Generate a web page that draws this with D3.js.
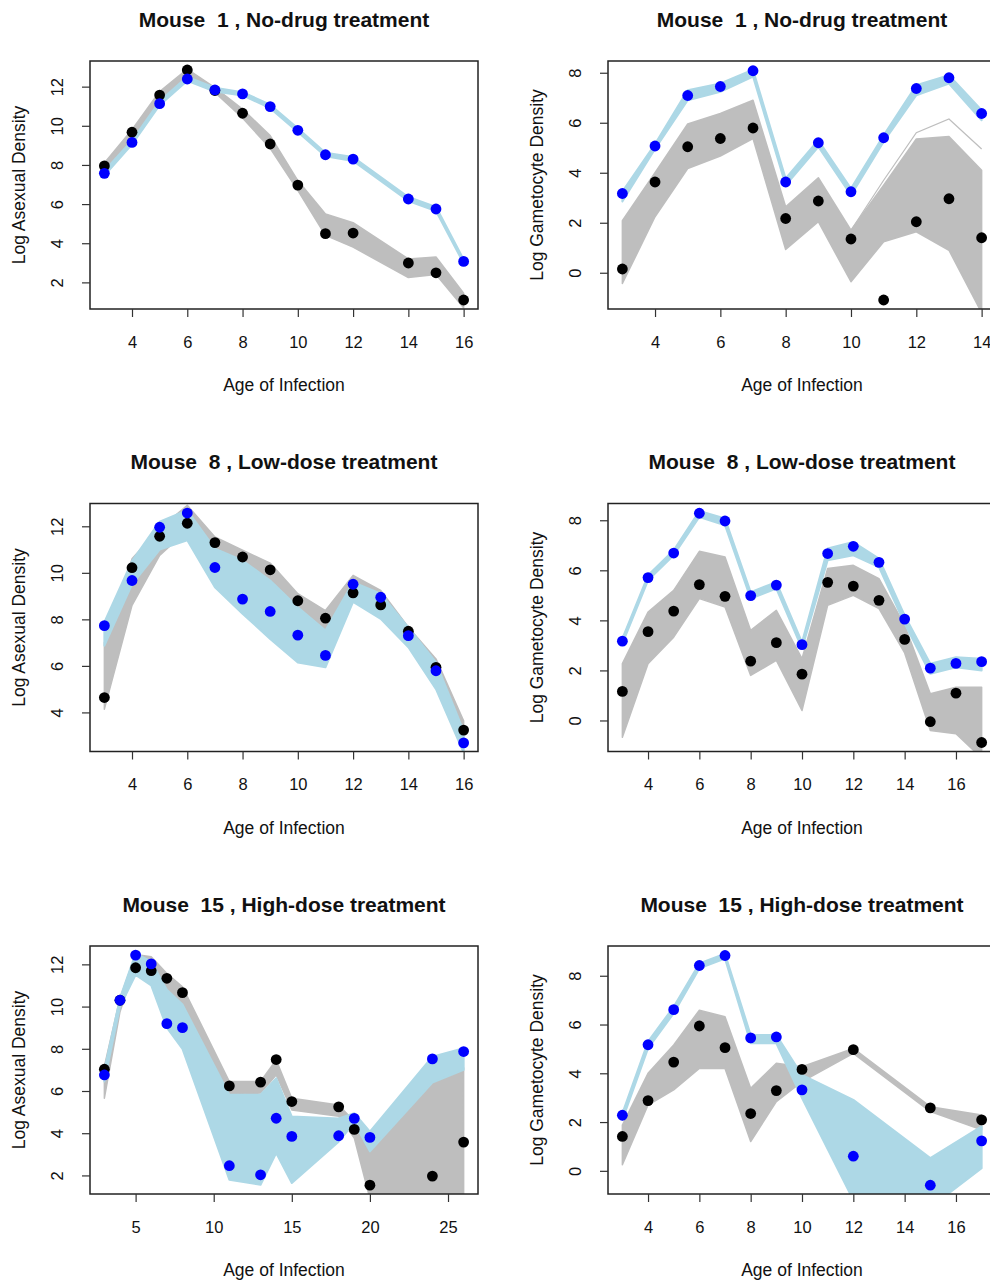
<!DOCTYPE html>
<html lang="en">
<head>
  <meta charset="UTF-8">
  <title>Mouse infection fits</title>
  <script src="https://d3js.org/d3.v7.min.js"></script>
  <style>
    body { margin: 0; background: #fff; }
    svg { display: block; font-family: "Liberation Sans", Arial, sans-serif; }
    .title { white-space: pre; }
  </style>
</head>
<body>
  <svg id="chart"></svg>
  <script>
    // ---- data ----
    // Mouse 1, asexual
    const days1 = [3, 4, 5, 6, 7, 8, 9, 10, 11, 12, 14, 15, 16];
    const asex1Obs = [7.95, 9.67, 11.57, 12.85, 11.8, 10.64, 9.07, 6.97, 4.49, 4.52, 2.99, 2.49, 1.1];
    const asex1Fit = [7.57, 9.15, 11.13, 12.39, 11.83, 11.63, 10.98, 9.77, 8.52, 8.3, 6.26, 5.75, 3.07];
    const asex1GreyHi = [8.1, 9.8, 11.75, 12.9, 11.95, 10.85, 9.5, 7.2, 5.5, 5.05, 3.2, 3.3, 1.45];
    const asex1GreyLo = [7.7, 9.3, 11.2, 12.5, 11.7, 10.4, 8.85, 6.7, 4.4, 3.8, 2.25, 2.4, 0.7];
    const asex1BlueHi = [7.7, 9.25, 11.25, 12.5, 11.95, 11.72, 11.08, 9.87, 8.62, 8.4, 6.36, 5.86, 3.17];
    const asex1BlueLo = [7.45, 9.05, 11.05, 12.3, 11.75, 11.55, 10.9, 9.68, 8.44, 8.2, 6.16, 5.65, 2.97];

    // Mouse 1, gametocyte
    const days2 = [3, 4, 5, 6, 7, 8, 9, 10, 11, 12, 13, 14];
    const gam1Obs = [0.15, 3.63, 5.04, 5.37, 5.79, 2.17, 2.87, 1.35, -1.09, 2.04, 2.96, 1.4];
    const gam1Fit = [3.17, 5.07, 7.09, 7.45, 8.08, 3.63, 5.2, 3.24, 5.4, 7.37, 7.8, 6.37];
    const gam1GreyHi = [2.08, 4.0, 5.95, 6.37, 6.9, 2.64, 3.8, 1.7, 3.5, 5.35, 5.45, 4.1];
    const gam1GreyLo = [-0.43, 2.24, 4.17, 4.67, 5.37, 0.93, 2.04, -0.36, 1.24, 1.64, 0.9, -1.6];
    const gam1BlueHi = [3.25, 5.15, 7.3, 7.57, 8.12, 3.77, 5.3, 3.37, 5.5, 7.5, 7.9, 6.5];
    const gam1BlueLo = [2.85, 4.95, 6.9, 7.24, 7.85, 3.5, 5.04, 3.1, 5.24, 7.1, 7.57, 6.1];
    const gam1StrayDays = [10, 11, 12, 13, 14];
    const gam1Stray = [1.7, 3.7, 5.6, 6.15, 4.95];

    // Mouse 8, asexual
    const days3 = [3, 4, 5, 6, 7, 8, 9, 10, 11, 12, 13, 14, 15, 16];
    const asex8Obs = [4.64, 10.22, 11.57, 12.13, 11.3, 10.68, 10.13, 8.8, 8.05, 9.14, 8.62, 7.49, 5.94, 3.24];
    const asex8Fit = [7.73, 9.67, 11.96, 12.57, 10.23, 8.87, 8.34, 7.32, 6.45, 9.51, 8.95, 7.3, 5.79, 2.69];
    const asex8GreyHi = [7.0, 10.6, 11.9, 12.9, 11.54, 10.97, 10.42, 9.1, 8.38, 9.89, 9.24, 7.66, 6.3, 3.64];
    const asex8GreyLo = [4.14, 8.6, 10.75, 11.83, 10.97, 10.36, 9.67, 8.45, 7.52, 9.24, 8.3, 6.94, 5.5, 2.63];
    const asex8BlueHi = [7.88, 10.5, 12.2, 12.69, 11.04, 10.53, 9.67, 8.52, 7.52, 9.6, 9.1, 7.66, 6.15, 3.2];
    const asex8BlueLo = [6.87, 9.5, 11.0, 11.4, 9.38, 8.24, 7.16, 6.15, 5.94, 8.75, 8.02, 6.8, 5.0, 2.27];

    // Mouse 8, gametocyte
    const days4 = [3, 4, 5, 6, 7, 8, 9, 10, 11, 12, 13, 14, 15, 16, 17];
    const gam8Obs = [1.16, 3.55, 4.37, 5.43, 4.96, 2.37, 3.11, 1.85, 5.52, 5.37, 4.8, 3.24, -0.05, 1.09, -0.88];
    const gam8Fit = [3.17, 5.71, 6.69, 8.28, 7.97, 4.99, 5.41, 3.03, 6.67, 6.96, 6.32, 4.05, 2.09, 2.28, 2.35];
    const gam8GreyHi = [2.27, 4.33, 5.2, 6.76, 6.53, 3.6, 4.4, 2.47, 6.07, 6.2, 5.67, 3.8, 1.07, 1.33, 1.33];
    const gam8GreyLo = [-0.67, 2.27, 3.33, 4.87, 4.53, 1.8, 2.4, 0.4, 4.6, 5.0, 4.47, 2.7, -0.4, -0.53, -1.5];
    const gam8BlueHi = [3.27, 5.8, 6.8, 8.37, 8.07, 5.13, 5.53, 3.13, 6.87, 7.13, 6.47, 4.2, 2.27, 2.53, 2.47];
    const gam8BlueLo = [3.07, 5.6, 6.6, 8.13, 7.8, 4.87, 5.27, 2.87, 6.4, 6.6, 6.13, 3.87, 1.87, 2.13, 2.0];

    // Mouse 15, asexual
    const days5 = [3, 4, 5, 6, 7, 8, 11, 13, 14, 15, 18, 19, 20, 24, 26];
    const asex15Obs = [7.03, 10.3, 11.84, 11.7, 11.34, 10.66, 6.24, 6.42, 7.49, 5.5, 5.25, 4.18, 1.54, 1.97, 3.58];
    const asex15Fit = [6.76, 10.3, 12.44, 12.02, 9.19, 9.0, 2.46, 2.03, 4.71, 3.85, 3.88, 4.7, 3.8, 7.52, 7.87];
    const asex15GreyHi = [7.16, 10.4, 12.47, 12.36, 11.57, 10.94, 6.45, 6.45, 7.47, 5.66, 5.34, 4.56, 3.3, 6.5, 7.1];
    const asex15GreyLo = [5.66, 9.76, 11.94, 11.5, 10.63, 10.0, 5.82, 5.9, 6.76, 5.1, 4.8, 3.77, 0.9, 0.9, 0.9];
    const asex15BlueHi = [7.0, 10.4, 12.52, 12.13, 10.8, 10.1, 5.82, 5.82, 6.6, 4.79, 4.7, 4.95, 4.08, 7.63, 8.03];
    const asex15BlueLo = [6.45, 10.0, 11.5, 11.0, 9.0, 8.0, 1.8, 1.56, 3.06, 1.64, 3.6, 4.5, 3.14, 6.4, 7.0];

    // Mouse 15, gametocyte
    const days6 = [3, 4, 5, 6, 7, 8, 9, 10, 12, 15, 17];
    const gam15Obs = [1.41, 2.88, 4.46, 5.94, 5.05, 2.35, 3.29, 4.16, 4.97, 2.58, 2.09];
    const gam15Fit = [2.28, 5.17, 6.61, 8.42, 8.83, 5.45, 5.49, 3.32, 0.6, -0.59, 1.23];
    const gam15GreyHi = [1.88, 4.0, 5.16, 6.59, 6.32, 3.39, 4.41, 4.27, 5.02, 2.63, 2.29];
    const gam15GreyLo = [0.25, 2.7, 3.32, 4.2, 4.2, 1.2, 2.84, 3.66, 4.82, 2.43, 1.68];
    const gam15BlueHi = [2.36, 5.3, 6.73, 8.5, 8.9, 5.57, 5.57, 3.93, 2.91, 0.52, 1.82];
    const gam15BlueLo = [2.09, 5.02, 6.46, 8.3, 8.7, 5.23, 5.23, 2.98, -1.2, -1.5, 0.11];

    // axis ranges and ticks
    const xDom1 = [2.48, 16.52], yDom1 = [0.64, 13.31];
    const xDom2 = [2.56, 14.44], yDom2 = [-1.45, 8.47];
    const xDom3 = [2.48, 16.52], yDom3 = [2.32, 12.98];
    const xDom4 = [2.44, 17.56], yDom4 = [-1.24, 8.67];
    const xDom5 = [2.08, 26.92], yDom5 = [1.12, 12.87];
    const xDom6 = [2.44, 17.56], yDom6 = [-0.95, 9.22];
    const xTicksEven = [4, 6, 8, 10, 12, 14, 16];
    const xTicksTo14 = [4, 6, 8, 10, 12, 14];
    const xTicksFive = [5, 10, 15, 20, 25];
    const yTicksAsex = [2, 4, 6, 8, 10, 12];
    const yTicksAsex8 = [4, 6, 8, 10, 12];
    const yTicksGam = [0, 2, 4, 6, 8];

    const asexLab = "Log Asexual Density", gamLab = "Log Gametocyte Density";

    const panels = [
      {col: 0, row: 0, title: "Mouse  1 , No-drug treatment", ylab: asexLab, days: days1, obs: asex1Obs, fit: asex1Fit,
       gh: asex1GreyHi, gl: asex1GreyLo, bh: asex1BlueHi, bl: asex1BlueLo, xDom: xDom1, yDom: yDom1, xt: xTicksEven, yt: yTicksAsex},
      {col: 1, row: 0, title: "Mouse  1 , No-drug treatment", ylab: gamLab, days: days2, obs: gam1Obs, fit: gam1Fit,
       gh: gam1GreyHi, gl: gam1GreyLo, bh: gam1BlueHi, bl: gam1BlueLo, xDom: xDom2, yDom: yDom2, xt: xTicksTo14, yt: yTicksGam,
       strayDays: gam1StrayDays, stray: gam1Stray},
      {col: 0, row: 1, title: "Mouse  8 , Low-dose treatment", ylab: asexLab, days: days3, obs: asex8Obs, fit: asex8Fit,
       gh: asex8GreyHi, gl: asex8GreyLo, bh: asex8BlueHi, bl: asex8BlueLo, xDom: xDom3, yDom: yDom3, xt: xTicksEven, yt: yTicksAsex8},
      {col: 1, row: 1, title: "Mouse  8 , Low-dose treatment", ylab: gamLab, days: days4, obs: gam8Obs, fit: gam8Fit,
       gh: gam8GreyHi, gl: gam8GreyLo, bh: gam8BlueHi, bl: gam8BlueLo, xDom: xDom4, yDom: yDom4, xt: xTicksEven, yt: yTicksGam},
      {col: 0, row: 2, title: "Mouse  15 , High-dose treatment", ylab: asexLab, days: days5, obs: asex15Obs, fit: asex15Fit,
       gh: asex15GreyHi, gl: asex15GreyLo, bh: asex15BlueHi, bl: asex15BlueLo, xDom: xDom5, yDom: yDom5, xt: xTicksFive, yt: yTicksAsex},
      {col: 1, row: 2, title: "Mouse  15 , High-dose treatment", ylab: gamLab, days: days6, obs: gam15Obs, fit: gam15Fit,
       gh: gam15GreyHi, gl: gam15GreyLo, bh: gam15BlueHi, bl: gam15BlueLo, xDom: xDom6, yDom: yDom6, xt: xTicksEven, yt: yTicksGam}
    ];

    // ---- layout ----
    const W = 990, H = 1281;
    const colW = 518, rowH = 442.5;
    const box = {left: 90, top: 61, w: 388, h: 248};
    const grey = "#bebebe", lightblue = "#add8e6";

    const svg = d3.select("#chart").attr("width", W).attr("height", H);
    svg.append("rect").attr("width", W).attr("height", H).attr("fill", "#fff");

    panels.forEach((p, i) => {
      const g = svg.append("g").attr("transform", `translate(${p.col * colW}, ${p.row * rowH})`);
      draw(g, p, i);
    });

    function draw(panel, p, i) {
      const x = d3.scaleLinear().domain(p.xDom).range([0, box.w]);
      const y = d3.scaleLinear().domain(p.yDom).range([box.h, 0]);

      const g = panel.append("g").attr("transform", `translate(${box.left}, ${box.top})`);
      g.append("clipPath").attr("id", "clip" + i)
        .append("rect").attr("width", box.w).attr("height", box.h);
      const plot = g.append("g").attr("clip-path", `url(#clip${i})`);

      const rows = p.days.map((d, k) => ({d, gh: p.gh[k], gl: p.gl[k], bh: p.bh[k], bl: p.bl[k], o: p.obs[k], f: p.fit[k]}));
      const band = (hi, lo) => d3.area().x(r => x(r.d)).y0(r => y(r[lo])).y1(r => y(r[hi]));

      plot.append("path").attr("d", band("gh", "gl")(rows))
        .attr("fill", grey).attr("stroke", grey).attr("stroke-width", 1.5).attr("stroke-linejoin", "round");

      if (p.stray) {
        const line = d3.line().x(d => x(d[0])).y(d => y(d[1]));
        plot.append("path").attr("d", line(d3.zip(p.strayDays, p.stray)))
          .attr("fill", "none").attr("stroke", grey).attr("stroke-width", 1.2);
      }

      plot.append("path").attr("d", band("bh", "bl")(rows))
        .attr("fill", lightblue).attr("stroke", lightblue).attr("stroke-width", 2).attr("stroke-linejoin", "round");

      plot.selectAll(".obs").data(rows).join("circle")
        .attr("cx", r => x(r.d)).attr("cy", r => y(r.o)).attr("r", 5.4).attr("fill", "#000");
      plot.selectAll(".fit").data(rows).join("circle")
        .attr("cx", r => x(r.d)).attr("cy", r => y(r.f)).attr("r", 5.4).attr("fill", "#0000ff");

      g.append("rect").attr("width", box.w).attr("height", box.h)
        .attr("fill", "none").attr("stroke", "#222").attr("stroke-width", 1.5);

      // x axis
      const xa = g.append("g").attr("transform", `translate(0, ${box.h})`)
        .call(d3.axisBottom(x).tickValues(p.xt).tickSize(8).tickSizeOuter(0));
      xa.select(".domain").remove();
      xa.attr("color", "#333");
      xa.selectAll("line").attr("stroke-width", 1.2);
      xa.selectAll("text").attr("y", 38.5).attr("dy", 0)
        .attr("font-size", 16.5).attr("fill", "#111").attr("font-family", null);

      // y axis, labels rotated like base R
      const ya = g.append("g")
        .call(d3.axisLeft(y).tickValues(p.yt).tickSize(8).tickSizeOuter(0));
      ya.select(".domain").remove();
      ya.attr("color", "#333");
      ya.selectAll("line").attr("stroke-width", 1.2);
      ya.selectAll("text").attr("x", 0).attr("dy", 0).attr("text-anchor", "middle")
        .attr("transform", "translate(-27, 0) rotate(-90)")
        .attr("font-size", 16.5).attr("fill", "#111").attr("font-family", null);

      // titles
      panel.append("text").attr("class", "title")
        .attr("x", box.left + box.w / 2).attr("y", box.top - 34.3)
        .attr("text-anchor", "middle").attr("font-size", 21).attr("font-weight", "bold").attr("fill", "#111")
        .text(p.title);
      panel.append("text")
        .attr("x", box.left + box.w / 2).attr("y", box.top + box.h + 82)
        .attr("text-anchor", "middle").attr("font-size", 17.5).attr("fill", "#111")
        .text("Age of Infection");
      panel.append("text")
        .attr("transform", `translate(${box.left - 65}, ${box.top + box.h / 2}) rotate(-90)`)
        .attr("text-anchor", "middle").attr("font-size", 17.5).attr("fill", "#111")
        .text(p.ylab);
    }
  </script>
</body>
</html>
